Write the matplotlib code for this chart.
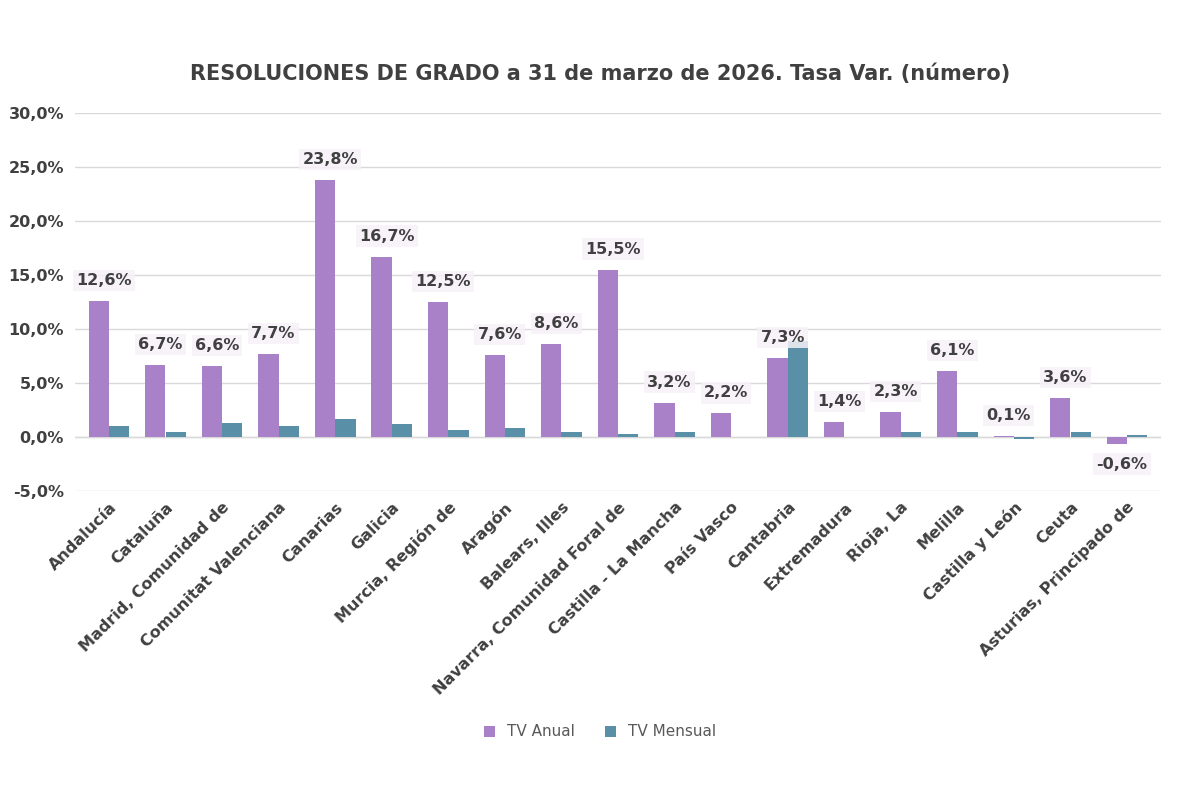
import numpy as np
import matplotlib.pyplot as plt

regiones = ["Andalucía", "Cataluña", "Madrid, Comunidad de", "Comunitat Valenciana",
            "Canarias", "Galicia", "Murcia, Región de", "Aragón", "Balears, Illes",
            "Navarra, Comunidad Foral de", "Castilla - La Mancha", "País Vasco",
            "Cantabria", "Extremadura", "Rioja, La", "Melilla", "Castilla y León",
            "Ceuta", "Asturias, Principado de"]
tv_anual = [12.6, 6.7, 6.6, 7.7, 23.8, 16.7, 12.5, 7.6, 8.6, 15.5, 3.2, 2.2,
            7.3, 1.4, 2.3, 6.1, 0.1, 3.6, -0.6]
tv_mensual = [1.0, 0.5, 1.3, 1.0, 1.7, 1.2, 0.7, 0.8, 0.5, 0.3, 0.5, 0.0,
              8.9, 0.0, 0.5, 0.5, -0.2, 0.5, 0.2]

c_anual = "#A981C8"
c_mensual = "#5A8FA8"

fig = plt.figure(figsize=(12, 8), dpi=100)
ax = fig.add_axes([0.0625, 0.386, 0.905, 0.473])

x = np.arange(len(regiones))
w = 0.36
ax.bar(x - w / 2, tv_anual, w, color=c_anual, label="TV Anual", zorder=3)
ax.bar(x + w / 2, tv_mensual, w, color=c_mensual, label="TV Mensual", zorder=3)

for xi, v in zip(x, tv_anual):
    y = v + 1.2 if v >= 0 else v - 1.2
    ax.text(xi - w / 4, y, ("%.1f%%" % v).replace(".", ","), ha="center",
            va="bottom" if v >= 0 else "top", fontsize=11.5, fontweight="bold",
            color="#404040", zorder=4,
            bbox=dict(boxstyle="square,pad=0.2", fc="#F6F1F8", ec="none", alpha=0.85))

ax.set_ylim(-5, 30)
ax.set_xlim(-0.6, len(regiones) - 0.4)
ax.set_yticks(np.arange(-5, 31, 5))
ax.set_yticklabels([("%.1f%%" % t).replace(".", ",") for t in np.arange(-5, 31, 5)],
                   fontsize=11.5, fontweight="bold", color="#404040")
ax.yaxis.set_tick_params(length=0, pad=8)
ax.grid(axis="y", color="#D9D9D9", linewidth=1, zorder=0)
for s in ax.spines.values():
    s.set_visible(False)
ax.axhline(0, color="#D9D9D9", linewidth=1, zorder=1)

ax.set_xticks(x)
ax.set_xticklabels(regiones, rotation=45, ha="right", rotation_mode="anchor",
                   fontsize=11.5, fontweight="bold", color="#404040")
ax.xaxis.set_tick_params(length=0, pad=6)

fig.text(0.5, 0.9, "RESOLUCIONES DE GRADO a 31 de marzo de 2026. Tasa Var. (número)",
         ha="center", fontsize=15, fontweight="bold", color="#404040")

fig.legend(loc="center", bbox_to_anchor=(0.5, 0.085), ncol=2, frameon=False,
           fontsize=11, handlelength=0.7, handleheight=0.7, labelcolor="#595959")

fig.savefig("out.png")
